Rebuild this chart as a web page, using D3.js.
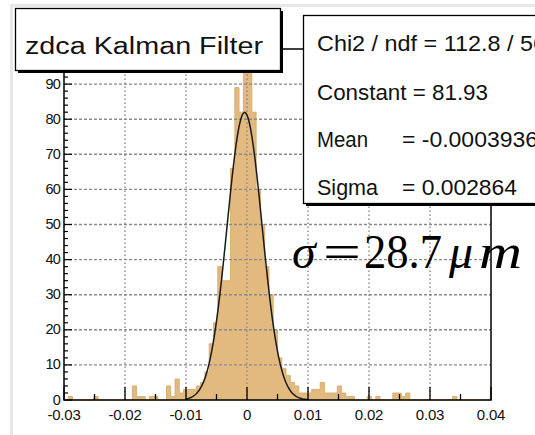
<!DOCTYPE html>
<html><head><meta charset="utf-8">
<script src="https://cdn.jsdelivr.net/npm/d3@7"></script>
<style>html,body{margin:0;padding:0;background:#fff;}svg{display:block;}</style>
</head><body>
<svg id="c" width="535" height="435"></svg>
<script>
// ---- data ----
const binRange = [-0.03, 0.04];
const binCounts = [
 0,1,0,0,0,0,0,1,0,0,
 0,0,0,0,0,0,4,1,1,0,
 1,1,0,0,4,1,6,2,3,3,
 3,4,5,8,16,22,38,34,34,66,
 89,82,95,95,82,60,50,38,30,20,
 12,9,7,5,4,2,2,2,3,3,
 5,2,2,2,4,2,1,1,0,0,
 0,1,0,1,0,0,0,2,2,1,
 2,0,0,0,0,0,0,0,0,0,
 0,1,0,0,0,0,0,0,0,0];
const xTicks = [-0.03,-0.02,-0.01,0,0.01,0.02,0.03,0.04];
const xTickLabels = ["-0.03","-0.02","-0.01","0","0.01","0.02","0.03","0.04"];
const yTicks = [0,10,20,30,40,50,60,70,80,90];
const fitParams = {constant:81.93, mean:-0.0003936, sigma:0.002864, range:[-0.01,0.01]};
const titleText = "zdca Kalman Filter";
const statsLabels = ["Chi2 / ndf = 112.8 / 56","Constant = 81.93","Mean","Sigma"];
const statsValues = ["","","= -0.0003936","= 0.002864"];

// ---- drawing ----
const svg = d3.select("#c");
const x = d3.scaleLinear().domain(binRange).range([64,491]);
const y = d3.scaleLinear().domain([0,100]).range([400,49]);
const nb = binCounts.length, bw = (binRange[1]-binRange[0])/nb;
const SANS = "Liberation Sans, Arial, Helvetica, sans-serif";

// canvas border
svg.append("path").attr("d","M11.5,435 V5.5 H535").attr("fill","none").attr("stroke","#e8e8e8").attr("stroke-width",3);

// histogram
const bins = binCounts.map((c,i)=>({x0:binRange[0]+i*bw, x1:binRange[0]+(i+1)*bw, c}));
let p = "M"+x(binRange[0])+","+y(0);
bins.forEach(b=>{ p += "L"+x(b.x0)+","+y(b.c)+"L"+x(b.x1)+","+y(b.c); });
p += "L"+x(binRange[1])+","+y(0)+"Z";
svg.append("path").attr("d",p).attr("fill","#e2b97f").attr("stroke","#d3a765").attr("stroke-width",0.8);

// grid
const g = svg.append("g");
yTicks.filter(v=>v>0).forEach(v=>{
  g.append("line").attr("x1",x(-0.03)).attr("x2",x(0.04)).attr("y1",y(v)).attr("y2",y(v))
   .attr("stroke","#8a8a8a").attr("stroke-width",1.4).attr("stroke-dasharray","3,2");
});
xTicks.slice(1,-1).forEach(v=>{
  g.append("line").attr("x1",x(v)).attr("x2",x(v)).attr("y1",y(0)).attr("y2",y(100))
   .attr("stroke","#8a8a8a").attr("stroke-width",1.4).attr("stroke-dasharray","1.5,2.5");
});

// fit curve
const fx = d3.range(fitParams.range[0], fitParams.range[1]+1e-9, 0.0002);
const gauss = v => fitParams.constant*Math.exp(-0.5*Math.pow((v-fitParams.mean)/fitParams.sigma,2));
svg.append("path").datum(fx).attr("d",d3.line().x(d=>x(d)).y(d=>y(gauss(d))))
  .attr("fill","none").attr("stroke","#1a1a1a").attr("stroke-width",1.5);

// frame
svg.append("rect").attr("x",x(-0.03)).attr("y",y(100)).attr("width",x(0.04)-x(-0.03)).attr("height",y(0)-y(100))
  .attr("fill","none").attr("stroke","#000").attr("stroke-width",1.5);

// axes
const xa = svg.append("g");
d3.range(0,15).forEach(k=>{
  const v = binRange[0]+k*0.005, major = k%2===0;
  xa.append("line").attr("x1",x(v)).attr("x2",x(v)).attr("y1",y(0)).attr("y2",y(0)-(major?13:6)).attr("stroke","#000").attr("stroke-width",1.3);
});
xTicks.forEach((v,i)=>{
  xa.append("text").attr("x",x(v)).attr("y",420).attr("text-anchor","middle")
   .attr("font-family",SANS).attr("font-size",15).attr("letter-spacing","-0.2")
   .attr("fill","#111").text(xTickLabels[i]);
});
const ya = svg.append("g");
d3.range(0,101,2).forEach(v=>{
  const major = v%10===0;
  ya.append("line").attr("x1",x(-0.03)).attr("x2",x(-0.03)+(major?8:4)).attr("y1",y(v)).attr("y2",y(v)).attr("stroke","#000").attr("stroke-width",1.2);
});
yTicks.forEach(v=>{
  ya.append("text").attr("x",60).attr("y",y(v)+4.5).attr("text-anchor","end")
   .attr("font-family",SANS).attr("font-size",14.5).attr("letter-spacing","-0.8")
   .attr("fill","#111").text(v);
});

// title box
svg.append("rect").attr("x",18).attr("y",11).attr("width",265).attr("height",62).attr("fill","#000");
svg.append("rect").attr("x",15.5).attr("y",8.5).attr("width",265).attr("height",62).attr("fill","#fff").attr("stroke","#000").attr("stroke-width",1.3);
svg.append("text").attr("x",25).attr("y",54).attr("font-family",SANS).attr("font-size",23)
  .attr("textLength",238).attr("lengthAdjust","spacingAndGlyphs").attr("fill","#111").text(titleText);

// stats box
svg.append("rect").attr("x",306).attr("y",18).attr("width",260).attr("height",188).attr("fill","#000");
svg.append("rect").attr("x",303.5).attr("y",15.5).attr("width",260).attr("height",188).attr("fill","#fff").attr("stroke","#000").attr("stroke-width",1.3);
const sy = [51,100,147,195];
const labelW = [229,171,51,61];
const valueW = [0,0,136,115];
statsLabels.forEach((t,i)=>{
  svg.append("text").attr("x",317).attr("y",sy[i]).attr("font-family",SANS).attr("font-size",21.5)
    .attr("textLength",labelW[i]).attr("lengthAdjust","spacingAndGlyphs").attr("fill","#111").text(t);
  if(statsValues[i]) svg.append("text").attr("x",402).attr("y",sy[i]).attr("font-family",SANS).attr("font-size",21.5)
    .attr("textLength",valueW[i]).attr("lengthAdjust","spacingAndGlyphs").attr("fill","#111").text(statsValues[i]);
});

// sigma annotation
const st = svg.append("text").attr("y",268).attr("font-family","Liberation Serif, Times New Roman, serif").attr("font-size",48).attr("fill","#000");
st.append("tspan").attr("x",292).attr("font-style","italic").text("σ");
st.append("tspan").attr("x",323).attr("textLength",38).attr("lengthAdjust","spacingAndGlyphs").text("=");
st.append("tspan").attr("x",364).attr("textLength",78).attr("lengthAdjust","spacingAndGlyphs").text("28.7");
st.append("tspan").attr("x",449).attr("font-style","italic").text("μ");
st.append("tspan").attr("x",479).attr("font-style","italic").attr("textLength",43).attr("lengthAdjust","spacingAndGlyphs").text("m");
</script>
</body></html>
